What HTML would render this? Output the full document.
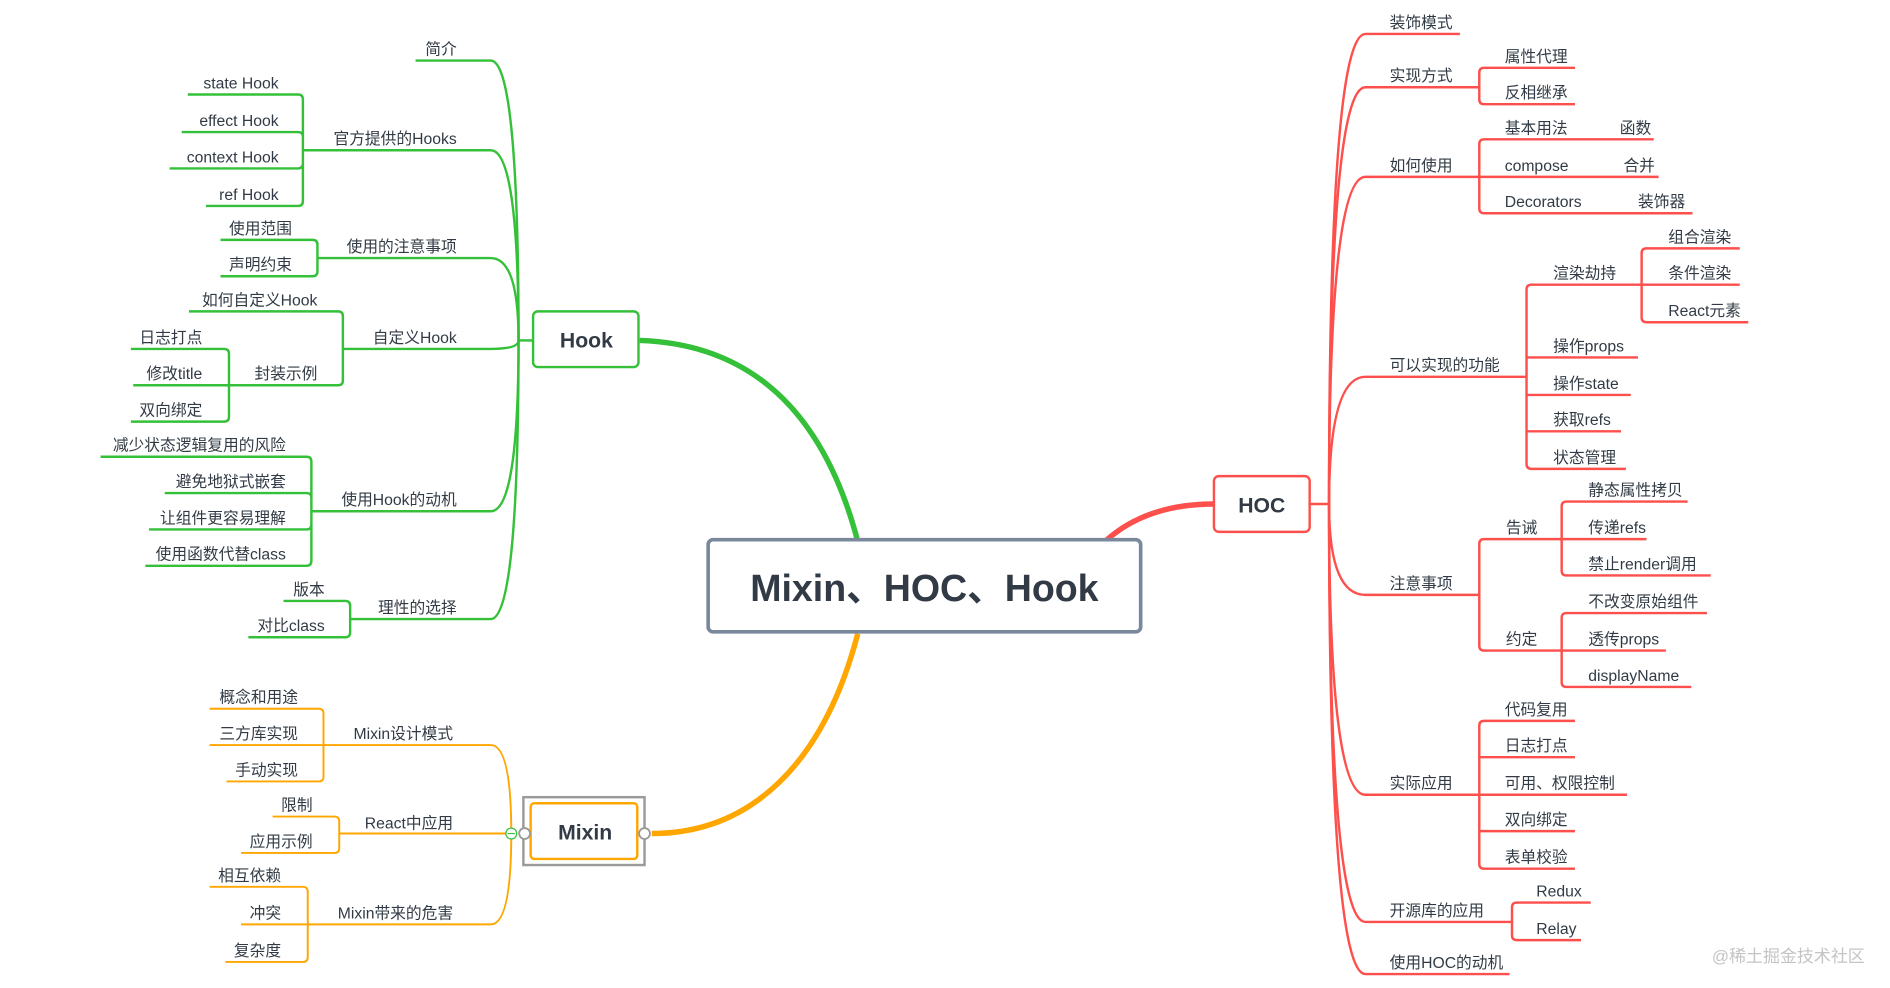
<!DOCTYPE html>
<html><head><meta charset="utf-8"><style>
html,body{margin:0;padding:0;background:#fff;width:1890px;height:988px;overflow:hidden}
svg{display:block}
text{font-family:"Liberation Sans","Noto Sans CJK SC",sans-serif;font-size:13px;fill:#323b45}
.g{stroke:#34c038;stroke-width:2;fill:none}
.r{stroke:#fd4f4b;stroke-width:2;fill:none}
.o{stroke:#ffa600;stroke-width:1.6;fill:none}
.e{text-anchor:end}
</style></head><body>
<svg width="1890" height="988" viewBox="0 0 1560 815.5" xmlns="http://www.w3.org/2000/svg">
<!-- main connectors -->
<path d="M528 281 C620 284 680 340 708 447" stroke="#34c038" stroke-width="4.5" fill="none"/>
<path d="M708 523 C680 630 620 688 538 688" stroke="#ffa600" stroke-width="4.5" fill="none"/>
<path d="M912 447 C935 426 965 416 1002 416" stroke="#fd4f4b" stroke-width="4.5" fill="none"/>

<!-- central -->
<rect x="584.5" y="445.5" width="357" height="76" rx="4" fill="#fff" stroke="#7a889c" stroke-width="3"/>
<text x="763" y="496" text-anchor="middle" style="font-size:31px;font-weight:bold">Mixin、HOC、Hook</text>

<!-- Hook -->
<path class="g" d="M428 281 H441"/>
<rect x="440" y="257" width="87" height="46" rx="4" fill="#fff" stroke="#34c038" stroke-width="2"/>
<text x="484" y="287" text-anchor="middle" style="font-size:17.5px;font-weight:bold">Hook</text>

<path class="g" d="M343 50 H405 Q428 50 428 281"/>
<text class="e" x="377" y="45">简介</text>

<path class="g" d="M250 124 H405 Q428 124 428 281"/>
<text class="e" x="377" y="119">官方提供的Hooks</text>
<path class="g" d="M155 78 H246 Q250 78 250 82 V166 Q250 170 246 170 H170 M150 109 H246 Q250 109 250 113 M140 139 H246 Q250 139 250 135"/>
<text class="e" x="230" y="73">state Hook</text>
<text class="e" x="230" y="104">effect Hook</text>
<text class="e" x="230" y="134">context Hook</text>
<text class="e" x="230" y="165">ref Hook</text>

<path class="g" d="M262 213 H405 Q428 213 428 281"/>
<text class="e" x="377" y="208">使用的注意事项</text>
<path class="g" d="M182 198 H258 Q262 198 262 202 V224 Q262 228 258 228 H182"/>
<text class="e" x="241" y="193">使用范围</text>
<text class="e" x="241" y="223">声明约束</text>

<path class="g" d="M283 288 H405 Q428 288 428 281"/>
<text class="e" x="377" y="283">自定义Hook</text>
<path class="g" d="M156 257 H279 Q283 257 283 261 V314 Q283 318 279 318 H189"/>
<text class="e" x="262" y="252">如何自定义Hook</text>
<text class="e" x="262" y="313">封装示例</text>
<path class="g" d="M108 288 H185 Q189 288 189 292 V344 Q189 348 185 348 H108 M110 318 H189"/>
<text class="e" x="167" y="283">日志打点</text>
<text class="e" x="167" y="313">修改title</text>
<text class="e" x="167" y="343">双向绑定</text>

<path class="g" d="M257 422 H405 Q428 422 428 281"/>
<text class="e" x="377" y="417">使用Hook的动机</text>
<path class="g" d="M83 377 H253 Q257 377 257 381 V463 Q257 467 253 467 H120 M136 407 H253 Q257 407 257 411 M123 437 H253 Q257 437 257 433"/>
<text class="e" x="236" y="372">减少状态逻辑复用的风险</text>
<text class="e" x="236" y="402">避免地狱式嵌套</text>
<text class="e" x="236" y="432">让组件更容易理解</text>
<text class="e" x="236" y="462">使用函数代替class</text>

<path class="g" d="M289 511 H405 Q428 511 428 281"/>
<text class="e" x="377" y="506">理性的选择</text>
<path class="g" d="M234 496 H285 Q289 496 289 500 V522 Q289 526 285 526 H205"/>
<text class="e" x="268" y="491">版本</text>
<text class="e" x="268" y="521">对比class</text>

<!-- Mixin -->
<path class="o" d="M267 615 H405 Q422 615 422 688 Q422 763 405 763 H254"/>
<path class="o" d="M280 688 H422"/>
<text class="e" x="374" y="610">Mixin设计模式</text>
<text class="e" x="374" y="684">React中应用</text>
<text class="e" x="374" y="758">Mixin带来的危害</text>
<path class="o" d="M173 585 H263 Q267 585 267 589 V641 Q267 645 263 645 H187 M173 615 H267"/>
<text class="e" x="246" y="580">概念和用途</text>
<text class="e" x="246" y="610">三方库实现</text>
<text class="e" x="246" y="640">手动实现</text>
<path class="o" d="M225 674 H276 Q280 674 280 678 V700 Q280 704 276 704 H199"/>
<text class="e" x="258" y="669">限制</text>
<text class="e" x="258" y="699">应用示例</text>
<path class="o" d="M173 732 H250 Q254 732 254 736 V790 Q254 794 250 794 H186 M199 763 H254"/>
<text class="e" x="232" y="727">相互依赖</text>
<text class="e" x="232" y="758">冲突</text>
<text class="e" x="232" y="789">复杂度</text>

<rect x="432" y="658" width="100" height="56" fill="#fff" stroke="#9a9a9a" stroke-width="2"/>
<rect x="438" y="663" width="88" height="46" rx="3" fill="#fff" stroke="#ffa600" stroke-width="2"/>
<text x="483" y="693" text-anchor="middle" style="font-size:17.5px;font-weight:bold">Mixin</text>
<circle cx="422" cy="688" r="4.5" fill="#fff" stroke="#34c038" stroke-width="1"/>
<path d="M419 688 H425" stroke="#34c038" stroke-width="1"/>
<circle cx="433" cy="688" r="4.5" fill="#fff" stroke="#9a9a9a" stroke-width="1.5"/>
<circle cx="532" cy="688" r="4.5" fill="#fff" stroke="#9a9a9a" stroke-width="1.5"/>

<!-- HOC -->
<path class="r" d="M1081 416 H1097"/>
<rect x="1002" y="393" width="79" height="46" rx="4" fill="#fff" stroke="#fd4f4b" stroke-width="2"/>
<text x="1041.5" y="423" text-anchor="middle" style="font-size:17.5px;font-weight:bold">HOC</text>

<path class="r" d="M1097 416 Q1097 28 1127 28 H1205"/>
<text x="1147" y="23">装饰模式</text>
<path class="r" d="M1097 416 Q1097 72 1127 72 H1221"/>
<text x="1147" y="67">实现方式</text>
<path class="r" d="M1300 56 H1225 Q1221 56 1221 60 V82 Q1221 86 1225 86 H1300"/>
<text x="1242" y="51">属性代理</text>
<text x="1242" y="81">反相继承</text>

<path class="r" d="M1097 416 Q1097 146 1127 146 H1221"/>
<text x="1147" y="141">如何使用</text>
<path class="r" d="M1365 115 H1225 Q1221 115 1221 119 V172 Q1221 176 1225 176 H1397 M1221 146 H1369"/>
<text x="1242" y="110">基本用法</text><text x="1337" y="110">函数</text>
<text x="1242" y="141">compose</text><text x="1340" y="141">合并</text>
<text x="1242" y="171">Decorators</text><text x="1352" y="171">装饰器</text>

<path class="r" d="M1097 416 Q1097 311 1127 311 H1260"/>
<text x="1147" y="306">可以实现的功能</text>
<path class="r" d="M1355 235 H1264 Q1260 235 1260 239 V383 Q1260 387 1264 387 H1342 M1260 295 H1352 M1260 326 H1346 M1260 356 H1338"/>
<text x="1282" y="230">渲染劫持</text>
<text x="1282" y="290">操作props</text>
<text x="1282" y="321">操作state</text>
<text x="1282" y="351">获取refs</text>
<text x="1282" y="382">状态管理</text>
<path class="r" d="M1436 205 H1359 Q1355 205 1355 209 V262 Q1355 266 1359 266 H1443 M1355 235 H1436"/>
<text x="1377" y="200">组合渲染</text>
<text x="1377" y="230">条件渲染</text>
<text x="1377" y="261">React元素</text>

<path class="r" d="M1097 416 Q1097 491 1127 491 H1221"/>
<text x="1147" y="486">注意事项</text>
<path class="r" d="M1289 445 H1225 Q1221 445 1221 449 V533 Q1221 537 1225 537 H1289"/>
<text x="1243" y="440">告诫</text>
<text x="1243" y="532">约定</text>
<path class="r" d="M1393 414 H1293 Q1289 414 1289 418 V471 Q1289 475 1293 475 H1412 M1289 445 H1359"/>
<text x="1311" y="409">静态属性拷贝</text>
<text x="1311" y="440">传递refs</text>
<text x="1311" y="470">禁止render调用</text>
<path class="r" d="M1409 506 H1293 Q1289 506 1289 510 V563 Q1289 567 1293 567 H1396 M1289 537 H1375"/>
<text x="1311" y="501">不改变原始组件</text>
<text x="1311" y="532">透传props</text>
<text x="1311" y="562">displayName</text>

<path class="r" d="M1097 416 Q1097 656 1127 656 H1221"/>
<text x="1147" y="651">实际应用</text>
<path class="r" d="M1300 595 H1225 Q1221 595 1221 599 V713 Q1221 717 1225 717 H1300 M1221 625 H1300 M1221 656 H1343 M1221 686 H1300"/>
<text x="1242" y="590">代码复用</text>
<text x="1242" y="620">日志打点</text>
<text x="1242" y="651">可用、权限控制</text>
<text x="1242" y="681">双向绑定</text>
<text x="1242" y="712">表单校验</text>

<path class="r" d="M1097 416 Q1097 761 1127 761 H1248"/>
<text x="1147" y="756">开源库的应用</text>
<path class="r" d="M1313 745 H1252 Q1248 745 1248 749 V772 Q1248 776 1252 776 H1305"/>
<text x="1268" y="740">Redux</text>
<text x="1268" y="771">Relay</text>

<path class="r" d="M1097 416 Q1097 804 1127 804 H1246"/>
<text x="1147" y="799">使用HOC的动机</text>

<text x="1413" y="794" style="font-size:14px;fill:#c4c4c4">@稀土掘金技术社区</text>
</svg>
</body></html>
